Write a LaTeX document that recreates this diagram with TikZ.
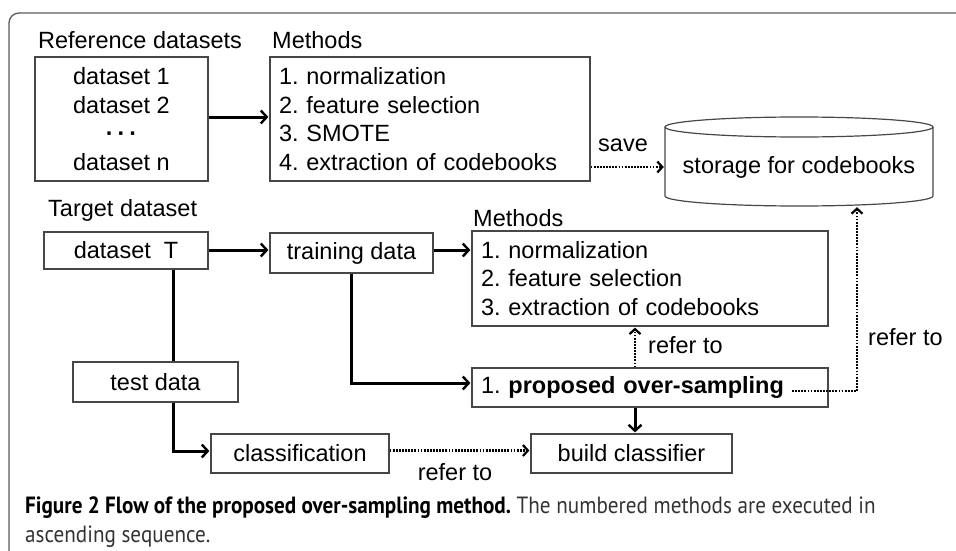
\documentclass[tikz,border=0pt]{standalone}
\usepackage{fontspec}
\setmainfont{Liberation Sans}
\newfontfamily\capfont[FakeStretch=0.9]{PT Sans}
\usetikzlibrary{arrows.meta}
\frenchspacing
\begin{document}
\begin{tikzpicture}[x=1pt,y=-1pt,
  every node/.style={font=\fontsize{23.5}{28.7}\selectfont, inner sep=0pt},
  box/.style={draw=black!72, line width=1.2pt},
  boxline/.style={draw=black!72, line width=1.2pt},
  sarrow/.style={line width=3pt, -{Straight Barb[length=6pt,width=13pt,line width=2.4pt]}, shorten >=1pt},
  sline/.style={line width=3pt},
  dotarrow/.style={line width=2.8pt, dash pattern=on 1.8pt off 1.3pt, -{Straight Barb[length=5pt,width=11pt,line width=2.2pt]}, shorten >=1pt},
  frame/.style={draw=black!65, line width=1.3pt, rounded corners=10pt}
]
\useasboundingbox (0,0) rectangle (956,551);
\draw[frame] (956,13) -- (9,13) -- (9,551);

% labels
\node (lrefd) at (140,40) {Reference datasets};
\node[anchor=west] (lmeth1) at (272,40) {Methods};
\node[anchor=west] (ltarget) at (48,210) {Target dataset};
\node[anchor=west] (lmeth2) at (473,218) {Methods};

% top row
\node[box, minimum width=173, minimum height=124, align=center] (refs) at (121.5,119)
  {dataset 1\\dataset 2\\\textbf{·\hspace{4pt}·\hspace{4pt}·}\\dataset n};
\node[box, minimum width=320, minimum height=124, text width=302, align=left] (m1) at (430,119)
  {1. normalization\\2. feature selection\\3. SMOTE\\4. extraction of codebooks};

% storage cylinder
\node[minimum width=268, minimum height=89] (cyl) at (799,161.5) {};
\draw[boxline] (799,127) ellipse [x radius=134pt, y radius=10pt];
\draw[boxline] (665,127) -- (665,196) arc [start angle=180, end angle=360, x radius=134pt, y radius=10pt] -- (933,127);
\node[minimum width=268] (store) at (799,167) {storage for codebooks};
\node (lsave) at (623,145) {save};

% middle
\node[box, minimum width=164, minimum height=37] (dT) at (126,250.5) {dataset\hspace{0.55em}T};
\node[box, minimum width=163, minimum height=40] (train) at (351.5,253) {training data};
\node[box, minimum width=356, minimum height=95, text width=338, align=left] (m2) at (650,278.5)
  {1. normalization\\2. feature selection\\3. extraction of codebooks};
\node[box, minimum width=356, minimum height=39, text width=338, align=left] (prop) at (650,387.5)
  {1. \textbf{proposed over-sampling}};
\node[box, minimum width=165, minimum height=40] (test) at (155.5,382) {test data};
\node[box, minimum width=178, minimum height=39] (class) at (300,453.5) {classification};
\node[box, minimum width=201, minimum height=39] (build) at (631.5,453.5) {build classifier};

\node[anchor=west] (lr1) at (648,345) {refer to};
\node[anchor=west] (lr2) at (868,337) {refer to};
\node (lr3) at (455,472) {refer to};

\coordinate (tx) at (173,0);
\coordinate (ax) at (635,0);
\coordinate (rx) at (857,0);
\coordinate (pend) at (792,391);

% connectors
\draw[sarrow] (refs.east |- 0,117) -- (m1.west |- 0,117);
\draw[dotarrow] (m1.east |- store) -- (store.west);
\draw[sarrow] (dT.east |- 0,250) -- (train.west |- 0,250);
\draw[sarrow] (train.east |- 0,250) -- (m2.west |- 0,250);
\draw[sline] (dT.south -| tx) -- (test.north -| tx);
\draw[sarrow] (test.south -| tx) |- ([yshift=2.5pt]class.west);
\draw[sarrow] (train.south) |- ([yshift=4.5pt]prop.west);
\draw[dotarrow] (prop.north -| ax) -- (m2.south -| ax);
\draw[sarrow] (prop.south -| ax) -- (build.north -| ax);
\draw[dotarrow] (pend) -| (cyl.south -| rx);
\draw[dotarrow] ([yshift=3pt]class.east) -- ([yshift=3pt]build.west);

% caption
\node[anchor=north west, align=left, font=\capfont\fontsize{23.5}{28.5}\selectfont, text=black!80] (cap) at (25,497)
  {\textcolor{black}{\textbf{Figure 2 Flow of the proposed over-sampling method.}} The numbered methods are executed in\\ascending sequence.};
\end{tikzpicture}
\end{document}
